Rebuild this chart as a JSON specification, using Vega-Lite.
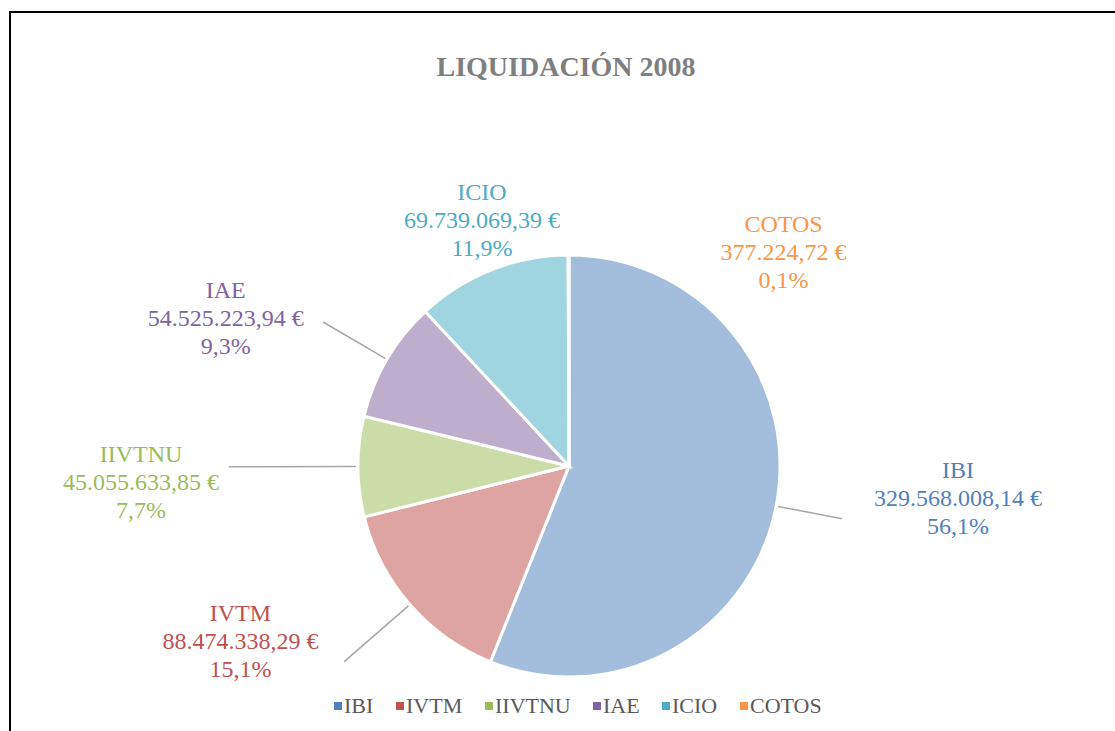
{
  "$schema": "https://vega.github.io/schema/vega-lite/v6.json",
  "width": 1118,
  "height": 908,
  "autosize": {"type": "none"},
  "padding": {"left": 10, "top": 12, "right": -13, "bottom": -189},
  "background": "white",
  "title": {
    "text": "LIQUIDACIÓN 2008",
    "font": "Liberation Serif",
    "fontSize": 28,
    "fontWeight": "bold",
    "color": "#7f7f7f",
    "anchor": "middle",
    "frame": "group",
    "offset": 0,
    "baseline": "alphabetic",
    "dy": 107,
    "dx": -3
  },
  "data": {
    "values": [
      {"concepto": "IBI", "orden": 1, "importe": 329568008.14, "etiqueta": "IBI\n329.568.008,14 €\n56,1%"},
      {"concepto": "IVTM", "orden": 2, "importe": 88474338.29, "etiqueta": "IVTM\n88.474.338,29 €\n15,1%"},
      {"concepto": "IIVTNU", "orden": 3, "importe": 45055633.85, "etiqueta": "IIVTNU\n45.055.633,85 €\n7,7%"},
      {"concepto": "IAE", "orden": 4, "importe": 54525223.94, "etiqueta": "IAE\n54.525.223,94 €\n9,3%"},
      {"concepto": "ICIO", "orden": 5, "importe": 69739069.39, "etiqueta": "ICIO\n69.739.069,39 €\n11,9%"},
      {"concepto": "COTOS", "orden": 6, "importe": 377224.72, "etiqueta": "COTOS\n377.224,72 €\n0,1%"}
    ]
  },
  "layer": [
    {
      "transform": [{"aggregate": [{"op": "count", "as": "n"}]}],
      "mark": {"type": "rect", "fill": null, "stroke": "#000000", "strokeWidth": 2},
      "encoding": {}
    },
    {
      "mark": {"type": "arc", "radius": 211, "stroke": "white", "strokeWidth": 3, "fillOpacity": 0.52},
      "encoding": {
        "theta": {"field": "importe", "type": "quantitative", "stack": true},
        "order": {"field": "orden", "type": "quantitative"},
        "color": {
          "field": "concepto", "type": "nominal",
          "scale": {"domain": ["IBI", "IVTM", "IIVTNU", "IAE", "ICIO", "COTOS"], "range": ["#4f81bd", "#c0504d", "#9bbb59", "#8064a2", "#4bacc6", "#f79646"]},
          "legend": {
            "orient": "none",
            "legendX": 317,
            "legendY": 683,
            "direction": "horizontal",
            "columns": 6,
            "title": null,
            "symbolType": "square",
            "symbolSize": 64,
            "symbolStrokeWidth": 0,
            "symbolOpacity": 1,
            "labelFont": "Liberation Serif",
            "labelFontSize": 22,
            "labelColor": "#595959",
            "labelOffset": -5,
            "columnPadding": 15,
            "encode": {"symbols": {"update": {"fillOpacity": {"value": 1}, "opacity": {"value": 1}, "strokeWidth": {"value": 0}}}}
          }
        }
      }
    },
    {
      "mark": {"type": "arc", "filled": false, "stroke": "#a6a6a6", "strokeWidth": 1.5, "radius": 278, "radius2": 213},
      "encoding": {
        "theta": {"datum": 164784004.07, "type": "quantitative"},
        "theta2": {"datum": 164784004.07},
        "strokeOpacity": {"condition": {"test": "datum.concepto === 'IBI'", "value": 1}, "value": 0}
      }
    },
    {
      "mark": {"type": "arc", "filled": false, "stroke": "#a6a6a6", "strokeWidth": 1.5, "radius": 298, "radius2": 213, "padAngle": 3},
      "encoding": {
        "theta": {"field": "importe", "type": "quantitative", "stack": true},
        "order": {"field": "orden", "type": "quantitative"},
        "detail": {"field": "concepto", "type": "nominal"},
        "strokeOpacity": {"condition": {"test": "datum.concepto === 'IVTM'", "value": 1}, "value": 0}
      }
    },
    {
      "mark": {"type": "arc", "filled": false, "stroke": "#a6a6a6", "strokeWidth": 1.5, "radius": 340, "radius2": 213, "padAngle": 3},
      "encoding": {
        "theta": {"field": "importe", "type": "quantitative", "stack": true},
        "order": {"field": "orden", "type": "quantitative"},
        "detail": {"field": "concepto", "type": "nominal"},
        "strokeOpacity": {"condition": {"test": "datum.concepto === 'IIVTNU'", "value": 1}, "value": 0}
      }
    },
    {
      "mark": {"type": "arc", "filled": false, "stroke": "#a6a6a6", "strokeWidth": 1.5, "radius": 285, "radius2": 213, "padAngle": 3},
      "encoding": {
        "theta": {"field": "importe", "type": "quantitative", "stack": true},
        "order": {"field": "orden", "type": "quantitative"},
        "detail": {"field": "concepto", "type": "nominal"},
        "strokeOpacity": {"condition": {"test": "datum.concepto === 'IAE'", "value": 1}, "value": 0}
      }
    },
    {
      "mark": {"type": "text", "radius": 388, "dx": 8, "dy": -69, "font": "Liberation Serif", "fontSize": 24, "lineHeight": 28, "lineBreak": "\n", "align": "center", "baseline": "middle"},
      "encoding": {
        "theta": {"field": "importe", "type": "quantitative", "stack": true},
        "order": {"field": "orden", "type": "quantitative"},
        "color": {"field": "concepto", "type": "nominal"},
        "text": {"field": "etiqueta", "type": "nominal", "condition": {"test": "datum.concepto !== 'IBI'", "value": ""}}
      }
    },
    {
      "mark": {"type": "text", "radius": 364, "dx": -54, "dy": -91, "font": "Liberation Serif", "fontSize": 24, "lineHeight": 28, "lineBreak": "\n", "align": "center", "baseline": "middle"},
      "encoding": {
        "theta": {"field": "importe", "type": "quantitative", "stack": true},
        "order": {"field": "orden", "type": "quantitative"},
        "color": {"field": "concepto", "type": "nominal"},
        "text": {"field": "etiqueta", "type": "nominal", "condition": {"test": "datum.concepto !== 'IVTM'", "value": ""}}
      }
    },
    {
      "mark": {"type": "text", "radius": 428, "dx": 0, "dy": -12, "font": "Liberation Serif", "fontSize": 24, "lineHeight": 28, "lineBreak": "\n", "align": "center", "baseline": "middle"},
      "encoding": {
        "theta": {"field": "importe", "type": "quantitative", "stack": true},
        "order": {"field": "orden", "type": "quantitative"},
        "color": {"field": "concepto", "type": "nominal"},
        "text": {"field": "etiqueta", "type": "nominal", "condition": {"test": "datum.concepto !== 'IIVTNU'", "value": ""}}
      }
    },
    {
      "mark": {"type": "text", "radius": 370, "dx": -24, "dy": 12, "font": "Liberation Serif", "fontSize": 24, "lineHeight": 28, "lineBreak": "\n", "align": "center", "baseline": "middle"},
      "encoding": {
        "theta": {"field": "importe", "type": "quantitative", "stack": true},
        "order": {"field": "orden", "type": "quantitative"},
        "color": {"field": "concepto", "type": "nominal"},
        "text": {"field": "etiqueta", "type": "nominal", "condition": {"test": "datum.concepto !== 'IAE'", "value": ""}}
      }
    },
    {
      "mark": {"type": "text", "radius": 261, "dx": 9, "dy": -30, "font": "Liberation Serif", "fontSize": 24, "lineHeight": 28, "lineBreak": "\n", "align": "center", "baseline": "middle"},
      "encoding": {
        "theta": {"field": "importe", "type": "quantitative", "stack": true},
        "order": {"field": "orden", "type": "quantitative"},
        "color": {"field": "concepto", "type": "nominal"},
        "text": {"field": "etiqueta", "type": "nominal", "condition": {"test": "datum.concepto !== 'ICIO'", "value": ""}}
      }
    },
    {
      "mark": {"type": "text", "radius": 214, "dx": 215, "dy": -27, "font": "Liberation Serif", "fontSize": 24, "lineHeight": 28, "lineBreak": "\n", "align": "center", "baseline": "middle"},
      "encoding": {
        "theta": {"field": "importe", "type": "quantitative", "stack": true},
        "order": {"field": "orden", "type": "quantitative"},
        "color": {"field": "concepto", "type": "nominal"},
        "text": {"field": "etiqueta", "type": "nominal", "condition": {"test": "datum.concepto !== 'COTOS'", "value": ""}}
      }
    }
  ],
  "config": {
    "view": {"stroke": null},
    "font": "Liberation Serif"
  }
}
